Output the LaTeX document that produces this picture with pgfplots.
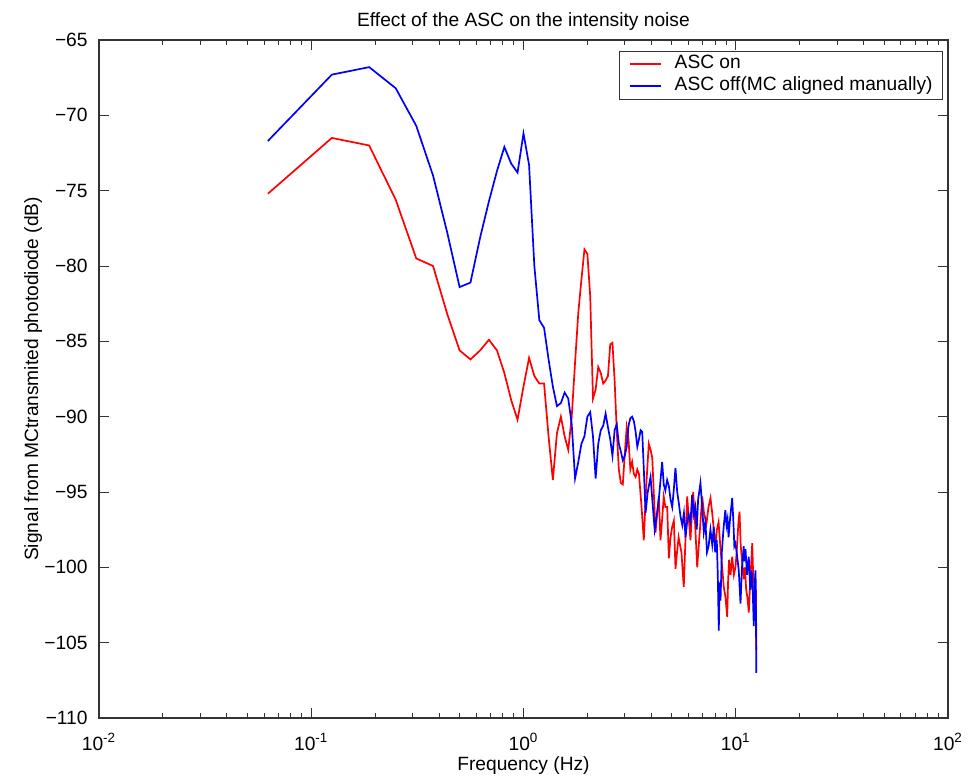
\documentclass[border=0pt]{standalone}
\usepackage{fontspec}
\setmainfont{Liberation Sans}
\usepackage{pgfplots}
\usepackage{pgfplotstable}
\pgfplotsset{compat=1.18}
\newcommand{\fs}{\fontsize{9.6pt}{11.5pt}\selectfont}

\pgfplotstableread{
f dB
0.0625 -75.2
0.125 -71.5
0.1875 -72.0
0.25 -75.6
0.3125 -79.5
0.375 -80.0
0.4375 -83.2
0.5 -85.6
0.5625 -86.2
0.625 -85.6
0.6875 -84.9
0.75 -85.6
0.8125 -87.1
0.875 -88.9
0.9375 -90.2
1.0 -88.0
1.0625 -86.1
1.125 -87.3
1.1875 -87.8
1.25 -87.8
1.3125 -91.3
1.375 -94.2
1.4375 -91.1
1.5 -90.0
1.5625 -91.3
1.625 -92.2
1.6875 -90.0
1.75 -86.4
1.8125 -83.1
1.875 -80.9
1.9375 -78.9
2.0 -79.2
2.0625 -82.0
2.125 -88.8
2.1875 -88.2
2.25 -86.7
2.3125 -87.1
2.375 -87.8
2.4375 -87.6
2.5 -87.3
2.5625 -85.2
2.625 -85.1
2.6875 -87.6
2.75 -90.9
2.8125 -93.5
2.875 -94.4
2.9375 -94.5
3.0 -92.5
3.0625 -90.7
3.125 -91.5
3.1875 -93.5
3.25 -93.0
3.3125 -93.8
3.375 -94.0
3.4375 -93.5
3.5 -93.8
3.6 -96.0
3.688 -98.2
3.79 -94.5
3.894 -91.8
3.97 -92.2
4.041 -92.7
4.11 -95.0
4.187 -97.7
4.26 -96.5
4.34 -95.3
4.42 -98.2
4.50 -96.8
4.58 -95.3
4.66 -96.0
4.753 -96.0
4.84 -99.4
4.93 -98.0
5.02 -97.3
5.11 -96.9
5.202 -100.1
5.29 -99.0
5.38 -98.0
5.46 -98.5
5.55 -99.0
5.62 -100.2
5.691 -101.3
5.80 -98.0
5.905 -95.3
6.01 -96.8
6.121 -98.2
6.21 -96.5
6.303 -95.0
6.44 -97.2
6.583 -100.0
6.70 -98.5
6.82 -97.0
6.950 -95.3
7.10 -96.5
7.28 -97.1
7.44 -96.0
7.603 -95.4
7.75 -96.4
7.88 -97.5
8.03 -98.5
8.15 -97.5
8.30 -97.0
8.40 -98.0
8.477 -98.8
8.63 -100.0
8.78 -101.3
8.95 -102.0
9.114 -103.3
9.20 -101.0
9.30 -99.5
9.45 -100.5
9.62 -99.3
9.80 -100.5
9.97 -100.0
10.10 -99.0
10.2 -98.0
10.30 -97.0
10.42 -96.3
10.55 -98.5
10.70 -99.5
10.9 -100.8
11.05 -100.0
11.2 -101.5
11.35 -102.0
11.52 -103.0
11.70 -101.0
11.85 -99.5
11.96 -98.4
12.05 -100.0
12.2 -101.0
12.3 -102.5
12.4 -103.5
12.45 -101.5
12.5 -105.5
}\ascon

\pgfplotstableread{
f dB
0.0625 -71.7
0.125 -67.3
0.1875 -66.8
0.25 -68.2
0.3125 -70.7
0.375 -74.0
0.4375 -77.8
0.5 -81.4
0.5625 -81.1
0.625 -78.1
0.6875 -75.7
0.75 -73.7
0.8125 -72.1
0.875 -73.2
0.9375 -73.8
1.0 -71.2
1.0625 -73.3
1.125 -80.0
1.1875 -83.6
1.25 -84.1
1.3125 -86.2
1.375 -88.0
1.4375 -89.3
1.5 -89.1
1.5625 -88.4
1.625 -88.8
1.6875 -90.5
1.75 -94.1
1.8125 -93.0
1.875 -91.8
1.9375 -91.3
2.0 -90.0
2.0625 -89.7
2.125 -91.3
2.1875 -94.1
2.25 -91.8
2.3125 -90.9
2.375 -90.6
2.4375 -89.8
2.5 -90.7
2.5625 -91.5
2.625 -92.6
2.6875 -90.9
2.75 -90.5
2.8125 -91.8
2.875 -92.3
2.9375 -92.9
3.0 -92.6
3.0625 -92.0
3.125 -90.6
3.1875 -90.1
3.25 -90.0
3.3125 -90.3
3.375 -91.0
3.4375 -92.0
3.5 -91.5
3.5625 -90.9
3.625 -91.0
3.69 -93.5
3.76 -96.4
3.85 -95.0
3.97 -94.0
4.06 -95.8
4.15 -97.5
4.25 -96.5
4.34 -95.5
4.50 -93.0
4.58 -94.5
4.66 -94.9
4.75 -94.2
4.84 -94.6
4.93 -95.5
5.02 -96.0
5.11 -94.8
5.20 -93.4
5.30 -95.0
5.40 -95.8
5.49 -96.6
5.60 -97.2
5.70 -96.4
5.80 -98.0
5.90 -97.0
6.00 -96.5
6.12 -97.0
6.23 -95.2
6.35 -96.5
6.45 -96.0
6.55 -97.5
6.65 -95.5
6.82 -94.4
6.95 -96.0
7.07 -97.7
7.20 -97.0
7.32 -99.0
7.45 -98.6
7.60 -97.5
7.75 -98.5
7.88 -97.3
8.00 -99.0
8.14 -98.2
8.23 -100.5
8.32 -104.2
8.40 -101.0
8.48 -102.2
8.60 -99.0
8.75 -97.5
8.93 -96.2
9.05 -97.2
9.15 -96.8
9.25 -98.0
9.40 -96.8
9.62 -95.4
9.75 -97.0
9.85 -98.6
9.97 -98.4
10.10 -99.0
10.20 -99.5
10.33 -100.2
10.53 -102.4
10.70 -100.0
10.90 -98.6
11.00 -99.6
11.12 -98.8
11.30 -100.5
11.52 -99.3
11.70 -101.5
11.90 -100.2
12.05 -102.0
12.16 -103.9
12.30 -101.0
12.40 -100.2
12.45 -103.0
12.5 -107.0
}\ascoff

\begin{document}
\begin{tikzpicture}
\path[use as bounding box] (-49.5pt,-29.5pt) rectangle (437pt,359pt);
\begin{axis}[
  at={(0pt,0pt)}, anchor=south west,
  scale only axis, width=424.5pt, height=339pt,
  xmode=log, xmin=0.01, xmax=100, ymin=-110, ymax=-65,
  xtick={0.01,0.1,1,10,100},
  xticklabels={10\textsuperscript{-2},10\textsuperscript{-1},10\textsuperscript{0},10\textsuperscript{1},10\textsuperscript{2}},
  ytick={-110,-105,-100,-95,-90,-85,-80,-75,-70,-65},
  yticklabels={−110,−105,−100,−95,−90,−85,−80,−75,−70,−65},
  tick align=inside, xtick pos=both, ytick pos=both,
  major tick length=5pt, minor tick length=2.5pt,
  axis line style={black!80, line width=0.6pt},
  every tick/.style={black!80, line width=0.5pt},
  tick label style={font=\fs},
  xticklabel style={anchor=base, inner sep=0pt, yshift=-16pt},
  yticklabel style={anchor=east, inner sep=0pt, xshift=-5.5pt},
  title={Effect of the ASC on the intensity noise},
  title style={at={(axis description cs:0.5,1.02065)}, anchor=base, inner sep=0pt, yshift=-6pt, font=\fs},
  xlabel={Frequency (Hz)},
  xlabel style={at={(axis description cs:0.5,-0.0767)}, anchor=base, inner sep=0pt, font=\fs},
  ylabel={Signal from MCtransmited photodiode (dB)},
  ylabel style={at={(axis description cs:-0.0718,0.5)}, anchor=base, inner sep=0pt, font=\fs},
  legend style={at={(axis description cs:1,1)}, anchor=north east, xshift=-2.5pt, yshift=-5.25pt,
    draw=black!80, font=\fs, inner xsep=5pt, inner ysep=2pt, row sep=2pt, column sep=0pt,
    nodes={inner sep=0pt, text height=7pt, text depth=2pt}},
  legend cell align=left,
  legend image code/.code={\draw[#1] (0pt,0pt) -- (15.5pt,0pt); \path (22pt,0pt);},
]
\addplot[draw=red, line width=0.85pt] table[x=f, y=dB] {\ascon};
\addlegendentry{ASC on}
\addplot[draw=blue, line width=0.85pt] table[x=f, y=dB] {\ascoff};
\addlegendentry{ASC off(MC aligned manually)}
\end{axis}
\end{tikzpicture}
\end{document}
